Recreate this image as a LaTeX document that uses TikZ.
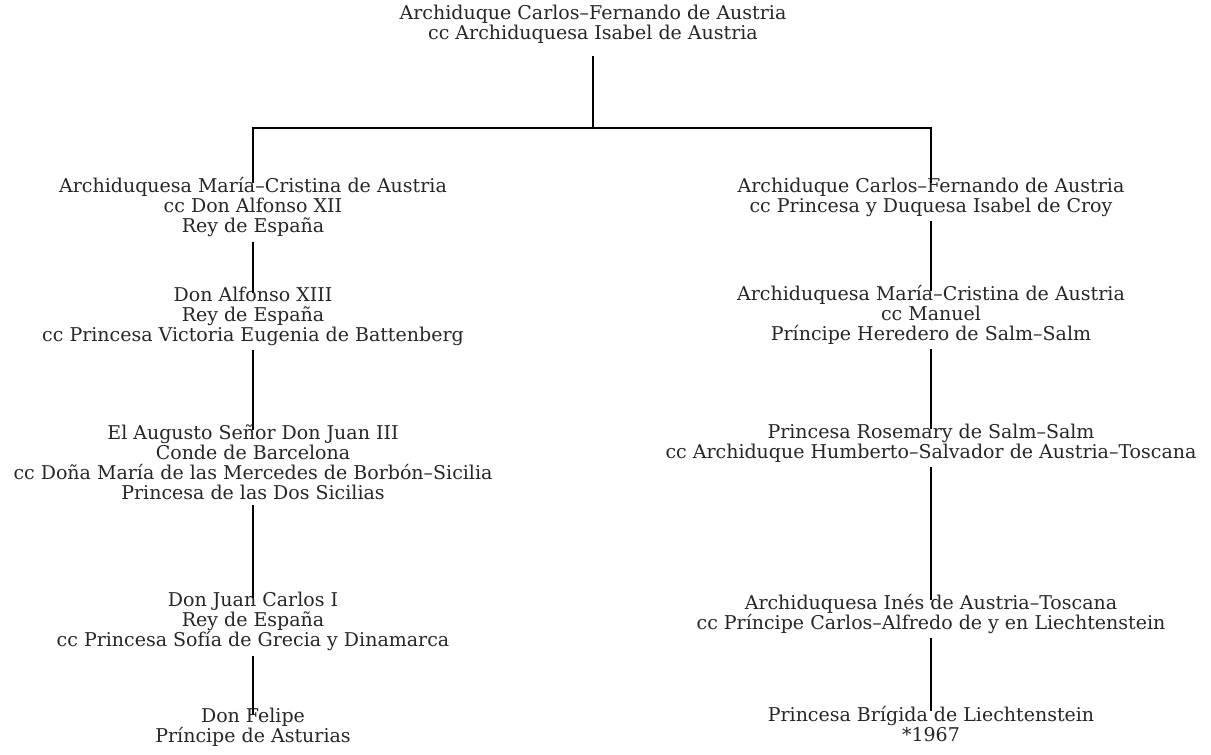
\documentclass[tikz,border=0pt]{standalone}
\usepackage{fontspec}
\setmainfont{DejaVu Serif}
\usetikzlibrary{positioning}

\begin{document}
\begin{tikzpicture}[%
        x=0.5pt, y=-0.5pt,
        every node/.style={align=center, inner sep=0pt, text=black!85, font=\fontsize{9.5}{10}\selectfont},
        line width=0.6pt,
        node distance=25pt
      ]
      \useasboundingbox (0,0) rectangle (1211,755);
      \node (top) [anchor=north] at (593,4) {Archiduque Carlos--Fernando de Austria\\cc Archiduquesa Isabel de Austria};
      \coordinate (fork) at (593,128);
      % left branch
      \node (l1) [anchor=north] at (253,177) {Archiduquesa María--Cristina de Austria\\cc Don Alfonso XII\\Rey de España};
      \node (l2) [below=24.5pt of l1] {Don Alfonso XIII\\Rey de España\\cc Princesa Victoria Eugenia de Battenberg};
      \node (l3) [below=39pt of l2] {El Augusto Señor Don Juan III\\Conde de Barcelona\\cc Doña María de las Mercedes de Borbón--Sicilia\\Princesa de las Dos Sicilias};
      \node (l4) [below=45.5pt of l3] {Don Juan Carlos I\\Rey de España\\cc Princesa Sofía de Grecia y Dinamarca};
      \node (l5) [below=28pt of l4] {Don Felipe\\Príncipe de Asturias};
      % right branch
      \node (r1) [anchor=north] at (931,177) {Archiduque Carlos--Fernando de Austria\\cc Princesa y Duquesa Isabel de Croy};
      \node (r2) [below=34pt of r1] {Archiduquesa María--Cristina de Austria\\cc Manuel\\Príncipe Heredero de Salm--Salm};
      \node (r3) [below=39pt of r2] {Princesa Rosemary de Salm--Salm\\cc Archiduque Humberto--Salvador de Austria--Toscana};
      \node (r4) [below=65.5pt of r3] {Archiduquesa Inés de Austria--Toscana\\cc Príncipe Carlos--Alfredo de y en Liechtenstein};
      \node (r5) [below=35.5pt of r4] {Princesa Brígida de Liechtenstein\\*1967};
      \draw ([yshift=-6pt]top.south) -- (fork);
      \draw ([yshift=-3pt]l1.north) |- (fork) -| ([yshift=-3pt]r1.north);
      \foreach \a/\b in {l1/l2, l2/l3, l3/l4, l4/l5, r1/r2, r2/r3, r3/r4, r4/r5}
        \draw ([yshift=-2pt]\a.south) -- ([yshift=-3pt]\b.north);
    \end{tikzpicture}
\end{document}
